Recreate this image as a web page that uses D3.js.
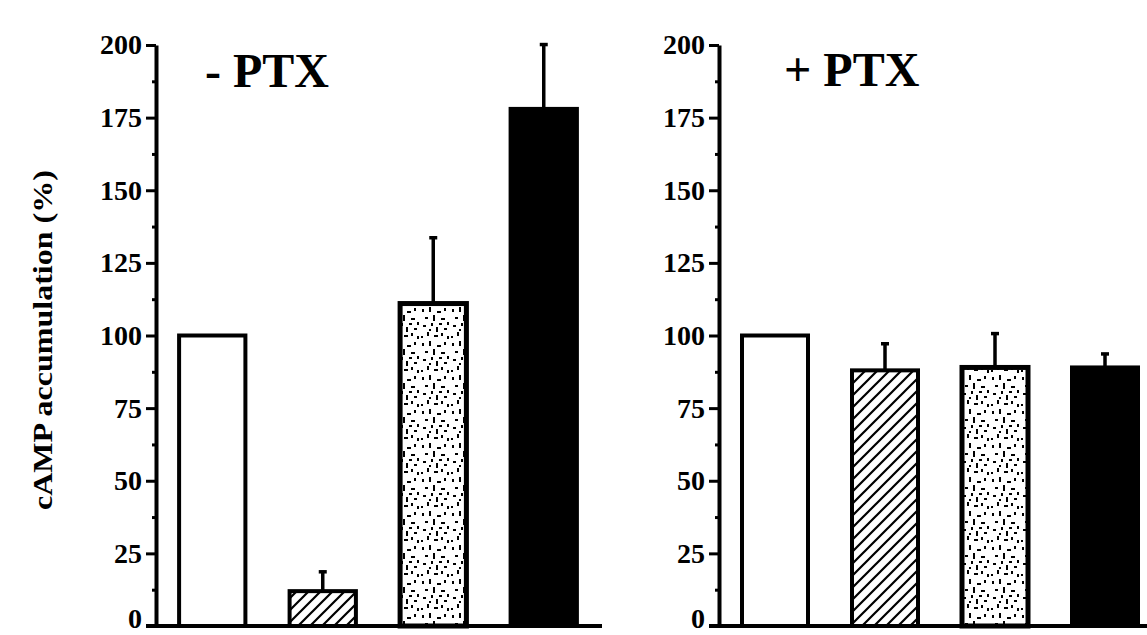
<!DOCTYPE html>
<html>
<head>
<meta charset="utf-8">
<script src="https://cdn.jsdelivr.net/npm/d3@7"></script>
<style>
  html, body { margin: 0; padding: 0; background: #fff; }
  svg { display: block; }
</style>
</head>
<body>
<svg id="chart" width="1147" height="635"></svg>
<script>
// Treatment conditions (same order in both panels)
const conditions = ["control", "agent1", "agent2", "agent1+agent2"];
const fills = ["white", "url(#hatch)", "url(#stipple)", "black"];

// Panel titles
const panelTitles = ["- PTX", "+ PTX"];

// cAMP accumulation (% of control), mean and SEM
const valuesNoPTX = [100, 12, 111, 178];
const errorsNoPTX = [0, 7, 23, 22.5];
const valuesPTX = [100, 88, 89, 89];
const errorsPTX = [0, 9.5, 12, 5];

// Axis ticks
const majorTicks = [0, 25, 50, 75, 100, 125, 150, 175, 200];
const minorTicks = [12.5, 37.5, 62.5, 87.5, 112.5, 137.5, 162.5, 187.5];
const tickLabels = ["0", "25", "50", "75", "100", "125", "150", "175", "200"];

const yTitle = "cAMP accumulation (%)";

const svg = d3.select("#chart");
const defs = svg.append("defs");

// diagonal hatching
const hatch = defs.append("pattern")
  .attr("id", "hatch").attr("patternUnits", "userSpaceOnUse")
  .attr("width", 12).attr("height", 12);
hatch.append("rect").attr("width", 12).attr("height", 12).attr("fill", "white");
hatch.append("path")
  .attr("d", "M-3,3 L3,-3 M0,12 L12,0 M9,15 L15,9")
  .attr("stroke", "black").attr("stroke-width", 2.2);

// stippled texture
const stipple = defs.append("pattern")
  .attr("id", "stipple").attr("patternUnits", "userSpaceOnUse")
  .attr("width", 30).attr("height", 34);
stipple.append("rect").attr("width", 30).attr("height", 34).attr("fill", "white");
const specks = [
  [2,3,2,3],[9,1,2,5],[17,5,4,2],[24,2,2,3],[5,11,3,2],[13,9,2,6],[21,12,4,2],
  [27,16,2,3],[3,19,3,2],[11,17,2,3],[16,21,2,5],[24,22,3,2],[7,26,2,4],
  [14,29,4,2],[21,27,2,3],[27,30,2,3],[1,30,2,2],[19,17,3,2],[9,23,2,2]
];
stipple.selectAll("rect.s").data(specks).join("rect")
  .attr("class", "s")
  .attr("x", d => d[0]).attr("y", d => d[1])
  .attr("width", d => d[2]).attr("height", d => d[3])
  .attr("fill", "black");

const y = d3.scaleLinear().domain([0, 200]).range([626, 45]);

const panels = [
  { title: panelTitles[0], values: valuesNoPTX, errors: errorsNoPTX,
    axisX: 156, baseline: [146, 602], band: [157, 599], titleX: 205, titleY: 87 },
  { title: panelTitles[1], values: valuesPTX, errors: errorsPTX,
    axisX: 719, baseline: [709, 1147], band: [720, 1160], titleX: 784, titleY: 86 }
];

panels.forEach(p => {
  const g = svg.append("g");

  const x = d3.scaleBand().domain(conditions).range(p.band)
    .paddingInner(0.4).paddingOuter(0.2);

  // bars
  g.selectAll("rect.bar").data(conditions).join("rect")
    .attr("class", "bar")
    .attr("x", d => x(d))
    .attr("width", x.bandwidth())
    .attr("y", (d, i) => y(p.values[i]))
    .attr("height", (d, i) => y(0) - y(p.values[i]))
    .attr("fill", (d, i) => fills[i])
    .attr("stroke", "black")
    .attr("stroke-width", (d, i) => i === 2 ? 5 : 4);

  // error bars (upper half only)
  const withErr = conditions.map((c, i) => ({ c, v: p.values[i], e: p.errors[i] }))
    .filter(d => d.e > 0);
  g.selectAll("line.err").data(withErr).join("line")
    .attr("class", "err")
    .attr("x1", d => x(d.c) + x.bandwidth() / 2)
    .attr("x2", d => x(d.c) + x.bandwidth() / 2)
    .attr("y1", d => y(d.v))
    .attr("y2", d => y(d.v + d.e))
    .attr("stroke", "black").attr("stroke-width", 3.5);
  g.selectAll("line.cap").data(withErr).join("line")
    .attr("class", "cap")
    .attr("x1", d => x(d.c) + x.bandwidth() / 2 - 4)
    .attr("x2", d => x(d.c) + x.bandwidth() / 2 + 4)
    .attr("y1", d => y(d.v + d.e) + 1)
    .attr("y2", d => y(d.v + d.e) + 1)
    .attr("stroke", "black").attr("stroke-width", 3.5);

  // baseline
  g.append("line")
    .attr("x1", p.baseline[0]).attr("x2", p.baseline[1])
    .attr("y1", y(0)).attr("y2", y(0))
    .attr("stroke", "black").attr("stroke-width", 4);

  // y axis with major ticks
  const axis = d3.axisLeft(y)
    .tickValues(majorTicks)
    .tickFormat((d, i) => tickLabels[i])
    .tickSize(10).tickSizeOuter(0).tickPadding(4);
  const ag = g.append("g").attr("transform", `translate(${p.axisX},0)`).call(axis);
  ag.select(".domain").attr("stroke-width", 4);
  ag.selectAll(".tick line").attr("stroke-width", 3);
  ag.selectAll(".tick text")
    .attr("font-family", "'Liberation Serif', 'Times New Roman', serif")
    .attr("font-weight", "bold")
    .attr("font-size", 28)
    .attr("fill", "black")
    .attr("dy", d => d === 0 ? "0.05em" : "0.32em");

  // minor ticks
  const minor = d3.axisLeft(y).tickValues(minorTicks).tickFormat("")
    .tickSize(4).tickSizeOuter(0);
  const mg = g.append("g").attr("transform", `translate(${p.axisX},0)`).call(minor);
  mg.select(".domain").remove();
  mg.selectAll(".tick line").attr("stroke-width", 3);

  // panel title
  g.append("text")
    .attr("x", p.titleX).attr("y", p.titleY)
    .attr("font-family", "'Liberation Serif', 'Times New Roman', serif")
    .attr("font-weight", "bold")
    .attr("font-size", 48)
    .attr("fill", "black")
    .text(p.title);
});

// y-axis title
svg.append("text")
  .attr("transform", "translate(52,340) rotate(-90)")
  .attr("text-anchor", "middle")
  .attr("font-family", "'Liberation Serif', 'Times New Roman', serif")
  .attr("font-weight", "bold")
  .attr("font-size", 27)
  .attr("textLength", 340)
  .attr("lengthAdjust", "spacingAndGlyphs")
  .attr("fill", "black")
  .text(yTitle);
</script>
</body>
</html>
